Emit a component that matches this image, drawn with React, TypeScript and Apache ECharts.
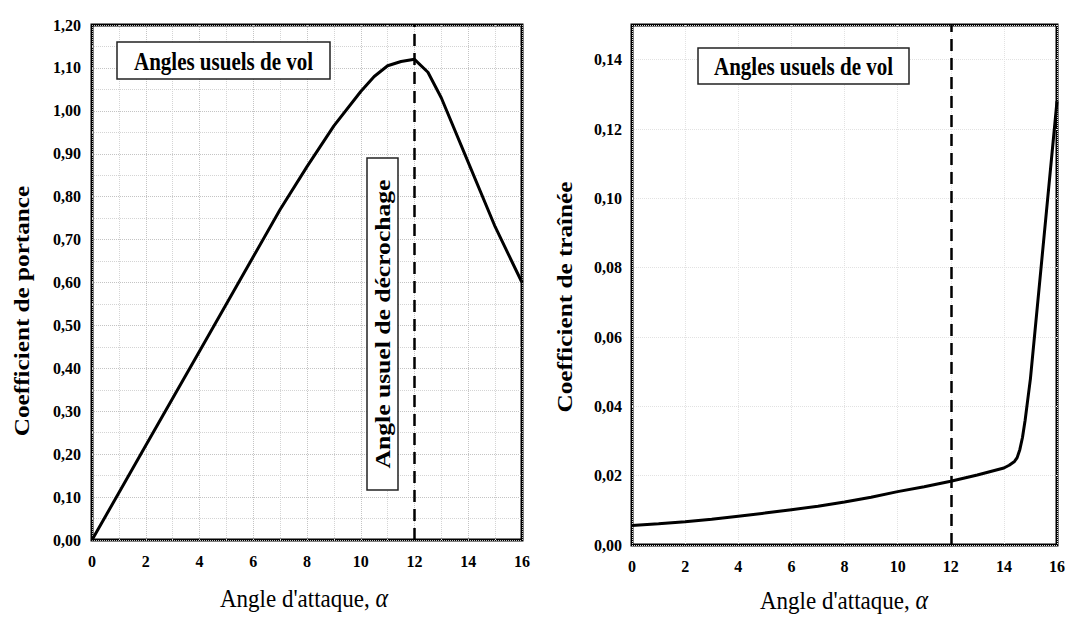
import React, { useEffect, useRef } from "react";
import * as echarts from "echarts";

// Lift coefficient vs angle of attack (left chart)
const liftAngle = [0, 2, 4, 6, 7, 8, 9, 10, 10.5, 11, 11.5, 12, 12.5, 13, 14, 15, 15.5, 16];
const liftCoef = [0, 0.22, 0.44, 0.66, 0.77, 0.87, 0.965, 1.045, 1.08, 1.105, 1.115, 1.12, 1.09, 1.03, 0.88, 0.73, 0.665, 0.6];

// Drag coefficient vs angle of attack (right chart)
const dragAngle = [0, 1, 2, 3, 4, 5, 6, 7, 8, 9, 10, 11, 12, 13, 14, 14.2, 14.4, 14.5, 14.6, 14.7, 14.8, 14.9, 15, 15.5, 16];
const dragCoef = [0.0056, 0.0061, 0.0067, 0.0074, 0.0083, 0.0092, 0.0102, 0.0112, 0.0124, 0.0138, 0.0154, 0.0168, 0.0184, 0.0202, 0.0222, 0.023, 0.0241, 0.0252, 0.0275, 0.031, 0.036, 0.042, 0.048, 0.088, 0.128];

const stallAngle = 12;
const xTitle = "Angle d'attaque, {a|α}";
const liftTitle = "Coefficient de portance";
const dragTitle = "Coefficient de traînée";
const flightBoxText = "Angles usuels de vol";
const stallBoxText = "Angle usuel de décrochage";

const FONT = '"Liberation Serif", "Times New Roman", serif';

const comma = (v: number, d: number) => v.toFixed(d).replace(".", ",");

export default function App() {
  const ref = useRef<HTMLDivElement>(null);
  useEffect(() => {
    if (!ref.current) return;
    const chart = echarts.init(ref.current, null, { renderer: "svg" });
    const tickLabel = { color: "#000", fontFamily: FONT, fontWeight: "bold" as const, fontSize: 16 };
    const xAxisBase = {
      type: "value" as const,
      min: 0,
      max: 16,
      interval: 2,
      axisLine: { show: false },
      axisTick: { show: false },
      axisLabel: { ...tickLabel, margin: 13 },
    };
    const dashLine = {
      silent: true,
      symbol: ["none", "none"],
      label: { show: false },
      lineStyle: { color: "#000", type: [12, 7] as any, width: 2.5 },
      data: [{ xAxis: stallAngle }],
    };
    const txt = (
      cx: number,
      cy: number,
      text: string,
      opts: { size: number; bold?: boolean; rot?: number; sx?: number; sy?: number; rich?: any }
    ) => ({
      type: "text",
      x: cx,
      y: cy,
      rotation: opts.rot || 0,
      scaleX: opts.sx || 1,
      scaleY: opts.sy || 1,
      z: 100,
      style: {
        text,
        fontFamily: FONT,
        fontSize: opts.size,
        fontWeight: opts.bold ? "bold" : "normal",
        fill: "#000",
        rich: opts.rich,
        align: "center",
        verticalAlign: "middle",
        textAlign: "center",
        textVerticalAlign: "middle",
      },
    });
    const boxRect = (x: number, y: number, w: number, h: number) => ({
      type: "rect",
      z: 99,
      shape: { x, y, width: w, height: h },
      style: { fill: "#fff", stroke: "#222", lineWidth: 1.5 },
    });
    const alphaRich = { a: { fontFamily: FONT, fontStyle: "italic", fontSize: 24, fill: "#000" } };

    chart.setOption({
      animation: false,
      backgroundColor: "#fff",
      grid: [
        { left: 92, right: 546, top: 25, bottom: 78, show: true, borderColor: "#000", borderWidth: 3, containLabel: false },
        { left: 632, right: 8, top: 25, bottom: 73, show: true, borderColor: "#000", borderWidth: 3, containLabel: false },
      ],
      xAxis: [
        {
          ...xAxisBase,
          gridIndex: 0,
          splitLine: { show: true, lineStyle: { color: "#c4c4c4", type: "dotted", width: 1 } },
          minorTick: { show: false, splitNumber: 2 },
          minorSplitLine: { show: true, lineStyle: { color: "#d4d4d4", type: "dotted", width: 1 } },
        },
        {
          ...xAxisBase,
          gridIndex: 1,
          splitLine: { show: true, lineStyle: { color: "#e2e2e2", type: "dotted", width: 1 } },
        },
      ],
      yAxis: [
        {
          type: "value",
          gridIndex: 0,
          min: 0,
          max: 1.2,
          interval: 0.1,
          axisLine: { show: false },
          axisTick: { show: false },
          axisLabel: { ...tickLabel, margin: 11, formatter: (v: number) => comma(v, 2) },
          splitLine: { show: true, lineStyle: { color: "#c4c4c4", type: "dotted", width: 1 } },
          minorTick: { show: false, splitNumber: 2 },
          minorSplitLine: { show: true, lineStyle: { color: "#d4d4d4", type: "dotted", width: 1 } },
        },
        {
          type: "value",
          gridIndex: 1,
          min: 0,
          max: 0.15,
          interval: 0.02,
          axisLine: { show: false },
          axisTick: { show: false },
          axisLabel: {
            ...tickLabel,
            margin: 10,
            formatter: (v: number) => (Math.abs(v / 0.02 - Math.round(v / 0.02)) < 1e-6 ? comma(v, 2) : ""),
          },
          splitLine: { show: true, lineStyle: { color: "#e2e2e2", type: "dotted", width: 1 } },
        },
      ],
      series: [
        {
          type: "line",
          xAxisIndex: 0,
          yAxisIndex: 0,
          data: liftAngle.map((a, i) => [a, liftCoef[i]]),
          showSymbol: false,
          smooth: false,
          lineStyle: { color: "#000", width: 3 },
          markLine: dashLine,
          z: 5,
        },
        {
          type: "line",
          xAxisIndex: 1,
          yAxisIndex: 1,
          data: dragAngle.map((a, i) => [a, dragCoef[i]]),
          showSymbol: false,
          smooth: false,
          lineStyle: { color: "#000", width: 3 },
          markLine: dashLine,
          z: 5,
        },
      ],
      graphic: [
        boxRect(117, 42, 213, 37),
        txt(223.5, 61, flightBoxText, { size: 21, bold: true, sy: 1.2 }),
        boxRect(698, 48, 211, 36),
        txt(803.5, 66.5, flightBoxText, { size: 21, bold: true, sy: 1.2 }),
        boxRect(367, 158, 31, 332),
        txt(382.5, 324, stallBoxText, { size: 21, bold: true, rot: Math.PI / 2, sx: 1.22 }),
        txt(22, 311, liftTitle, { size: 21, bold: true, rot: Math.PI / 2, sx: 1.2 }),
        txt(565, 297, dragTitle, { size: 21, bold: true, rot: Math.PI / 2, sx: 1.2 }),
        txt(304, 598, xTitle, { size: 23, sy: 1.1, rich: alphaRich }),
        txt(844, 600, xTitle, { size: 23, sy: 1.1, rich: alphaRich }),
      ],
    });
    return () => chart.dispose();
  }, []);
  return (
    <div
      ref={ref}
      style={{ position: "absolute", left: 0, top: 0, width: 1068, height: 618, background: "#fff" }}
    />
  );
}
